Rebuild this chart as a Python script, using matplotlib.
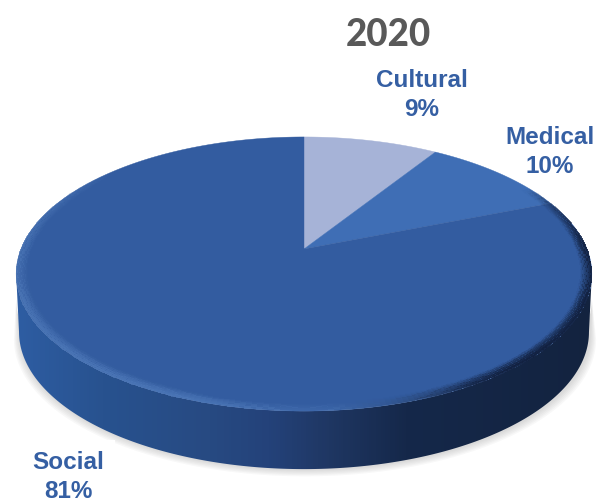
import numpy as np
import matplotlib
matplotlib.use('Agg')
from matplotlib import pyplot as plt
from matplotlib.colors import LinearSegmentedColormap
from matplotlib.patches import Polygon

title = '2020'
labels = ['Cultural', 'Medical', 'Social']
shares = [9, 10, 81]
colors = ['#a6b3d7', '#3f6eb5', '#335ca0']

# disc geometry on the canvas, in pixels
cx, cy = 304, 250
semi_x, semi_y, tilt = 283, 132.5, 0.1826
depth = 58

def rim(theta, r=1.0):
    # perspective view of a circle, theta runs clockwise from the far side
    u = r * np.sin(theta)
    v = r * np.cos(theta)
    d = 1 + tilt * v
    return cx + semi_x * u / d, cy - semi_y * v / d

fig = plt.figure(figsize=(5.98, 5.02), dpi=100)
ax = fig.add_axes([0, 0, 1, 1])
ax.set_xlim(0, 598)
ax.set_ylim(502, 0)
ax.axis('off')

# side wall outline between the two extreme points of the rim
t_side = np.linspace(np.arccos(-tilt), 2 * np.pi - np.arccos(-tilt), 300)
xs, ys = rim(t_side)
low_x = cx + (xs - cx) * 0.99
low_y = ys + depth

# soft shadow under the wall
for grow in np.arange(9, 0, -1.5):
    sx = cx + (low_x - cx) * (1 + grow / 420) + 1
    sy = low_y + grow * 0.8
    ax.add_patch(Polygon(np.column_stack([np.r_[sx, xs[::-1]], np.r_[sy, ys[::-1] + 25]]),
                         facecolor='#7f7f7f', edgecolor='none', alpha=0.05, zorder=1))

wall = Polygon(np.column_stack([np.r_[low_x, xs[::-1]], np.r_[low_y, ys[::-1]]]),
               facecolor='none', edgecolor='none', transform=ax.transData, zorder=2)
ax.add_patch(wall)
wall_cmap = LinearSegmentedColormap.from_list('wall', [
    (0.0, '#2f5fa6'), (0.17, '#28528f'), (0.35, '#274a82'), (0.45, '#24427a'),
    (0.55, '#1f3763'), (0.68, '#15284a'), (1.0, '#13233f')])
grad = ax.imshow(np.linspace(0, 1, 598).reshape(1, -1), cmap=wall_cmap, aspect='auto',
                 extent=[0, 598, 502, 0], zorder=2)
grad.set_clip_path(wall)
ax.set_xlim(0, 598)
ax.set_ylim(502, 0)

# top face, slices start at twelve o'clock and go clockwise
start = 0.0
for name, share, color in zip(labels, shares, colors):
    stop = start + share / sum(shares) * 2 * np.pi
    t = np.linspace(start, stop, 300)
    x, y = rim(t)
    ax.fill(np.r_[cx, x], np.r_[cy, y], color=color, lw=0.3, zorder=3)
    start = stop

# bevel along the front of the rim: light on the left, dark on the right
t_edges = np.radians(np.linspace(60, 310, 251))
r_edges = np.linspace(0.96, 1.0, 10)
T, R = np.meshgrid(t_edges, r_edges)
bx, by = rim(T, R)
t_mid = 0.5 * (t_edges[:-1] + t_edges[1:])
r_mid = 0.5 * (r_edges[:-1] + r_edges[1:])
deg = np.degrees(t_mid)
light = np.clip((deg - 150) / 50, 0, 1) * np.clip((312 - deg) / 50, 0, 1)
dark = np.clip((deg - 60) / 30, 0, 1) * np.clip((175 - deg) / 35, 0, 1)
rgba = np.zeros((len(r_mid), len(t_mid), 4))
profile = (r_mid - 0.96) / 0.04
for i, p in enumerate(profile):
    mix = light / np.maximum(light + dark, 1e-6)
    rgba[i, :, 0] = mix * 0.30 + (1 - mix) * 0.07
    rgba[i, :, 1] = mix * 0.47 + (1 - mix) * 0.13
    rgba[i, :, 2] = mix * 0.72 + (1 - mix) * 0.25
    rgba[i, :, 3] = p * np.maximum(light * 0.7, dark * 0.95)
ax.pcolormesh(bx, by, rgba, shading='flat', antialiased=False, zorder=4)

ax.text(388, 35, title, family='Lato', weight=900, fontsize=26.5, color='#595959',
        ha='center', va='center', zorder=6)

label_font = dict(family='Liberation Sans', weight='bold', fontsize=17.5, color='#355fa3',
                  ha='center', va='center', linespacing=1.28, zorder=6)
ax.text(422, 95, '%s\n%d%%' % (labels[0], shares[0]), **label_font)
ax.text(550, 152, '%s\n%d%%' % (labels[1], shares[1]), **label_font)
ax.add_patch(plt.Rectangle((0, 441), 115, 61, facecolor='white', edgecolor='none', zorder=5))
ax.text(68, 477, '%s\n%d%%' % (labels[2], shares[2]), **label_font)

fig.savefig('out.png', dpi=100)
